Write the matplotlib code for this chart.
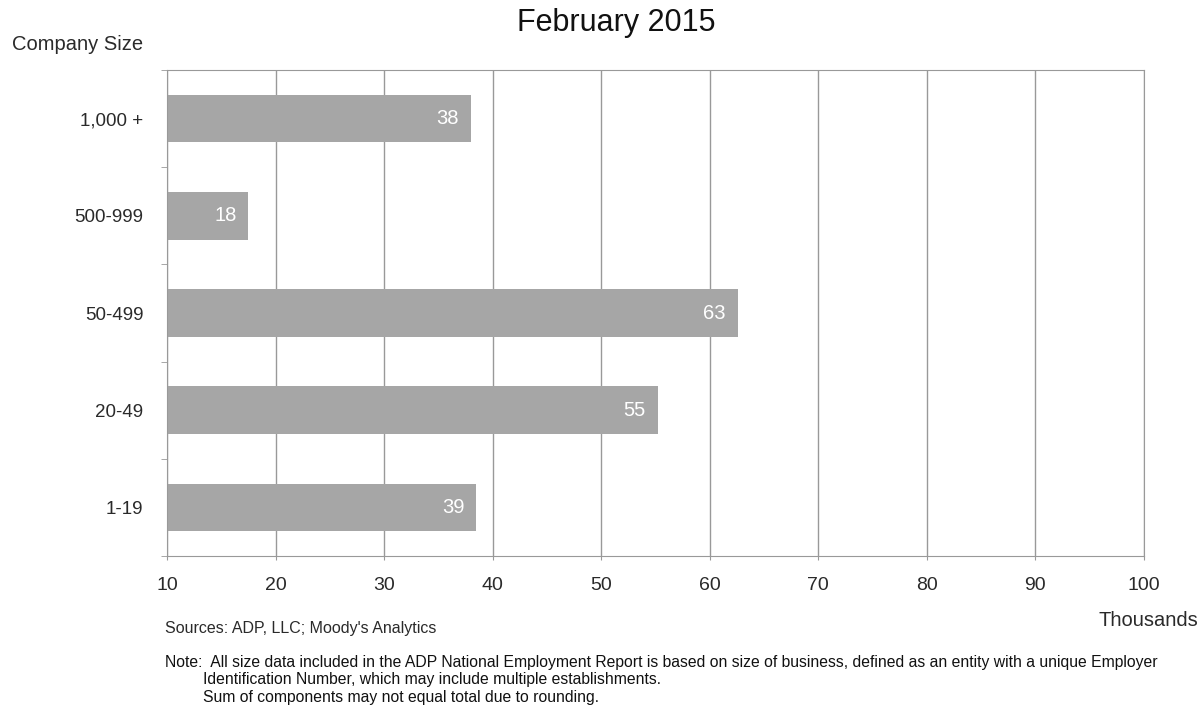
import matplotlib.pyplot as plt

categories = ['1,000 +', '500-999', '50-499', '20-49', '1-19']
values = [38.0, 17.5, 62.6, 55.2, 38.5]
labels = ['38', '18', '63', '55', '39']
xticks = [10, 20, 30, 40, 50, 60, 70, 80, 90, 100]

plt.rcParams['font.family'] = ['Liberation Sans', 'DejaVu Sans']

fig = plt.figure(figsize=(12.04, 7.12), dpi=100)
ax = fig.add_axes([0.1387, 0.219, 0.8113, 0.6827])

base = 10
ypos = list(range(len(categories)))
ax.barh(ypos, [v - base for v in values], left=base, height=0.49,
        color='#a6a6a6', zorder=2)
for y, v, lab in zip(ypos, values, labels):
    ax.text(v - 1.1, y, lab, color='white', ha='right', va='center',
            fontsize=14.5, zorder=3)

ax.set_xlim(10, 100)
ax.set_ylim(4.5, -0.5)
ax.set_xticks(xticks)
ax.set_xticklabels([str(t) for t in xticks], fontsize=14, color='#2a2a2a')
ax.set_yticks(ypos)
ax.set_yticklabels(categories, fontsize=13.5, color='#2a2a2a')
ax.tick_params(axis='y', length=0, pad=17)
ax.tick_params(axis='x', length=3, color='#999999', pad=12)
ax.set_yticks([i + 0.5 for i in range(-1, len(categories))], minor=True)
ax.tick_params(axis='y', which='minor', length=4, color='#999999')

ax.grid(axis='x', color='#999999', linewidth=1, zorder=1)
for side in ['left', 'bottom', 'top', 'right']:
    ax.spines[side].set_color('#999999')

fig.text(0.512, 0.968, 'February 2015', ha='center', va='center',
         fontsize=22, color='#111111')
fig.text(0.010, 0.938, 'Company Size', ha='left', va='center',
         fontsize=14.5, color='#2a2a2a')
fig.text(0.995, 0.128, 'Thousands', ha='right', va='center',
         fontsize=14.5, color='#2a2a2a')
fig.text(0.137, 0.117, "Sources: ADP, LLC; Moody's Analytics", ha='left',
         va='center', fontsize=11.5, color='#2a2a2a')

note = ['Note:  All size data included in the ADP National Employment Report '
        'is based on size of business, defined as an entity with a unique '
        'Employer',
        'Identification Number, which may include multiple establishments.',
        'Sum of components may not equal total due to rounding.']
narrow = ['Liberation Sans Narrow', 'Liberation Sans', 'DejaVu Sans']
fig.text(0.137, 0.069, note[0], ha='left', va='center', fontsize=11.3,
         family=narrow, color='#111111')
fig.text(0.169, 0.045, note[1], ha='left', va='center', fontsize=11.3,
         family=narrow, color='#111111')
fig.text(0.169, 0.021, note[2], ha='left', va='center', fontsize=11.3,
         family=narrow, color='#111111')

fig.savefig('out.png', dpi=100)
